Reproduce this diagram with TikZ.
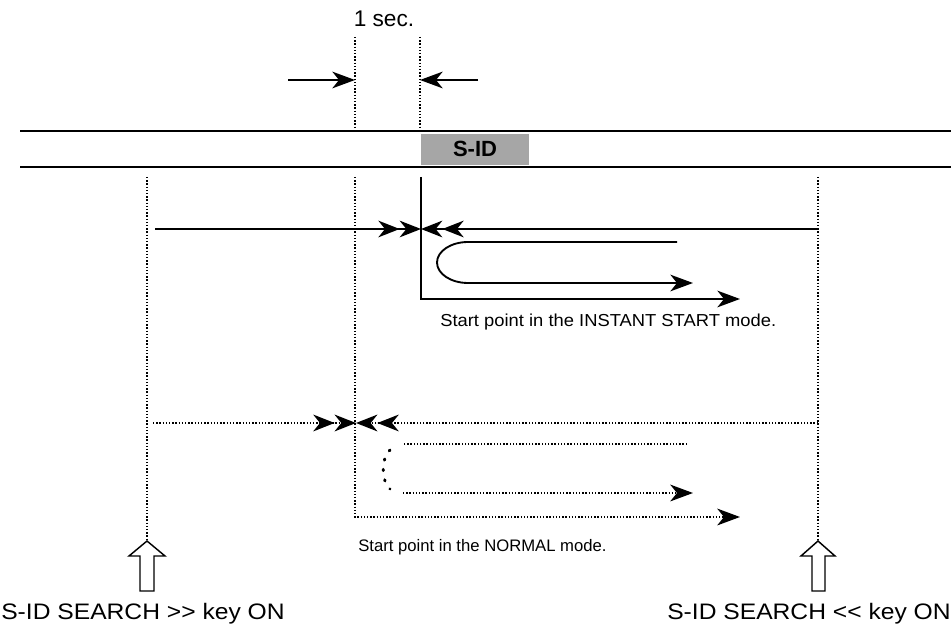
\documentclass[tikz,border=0pt]{standalone}
\usepackage{fontspec}
\setmainfont{Liberation Sans}
\newfontfamily\widefont{Liberation Sans}[FakeStretch=1.1]
\newfontfamily\midfont{Liberation Sans}[FakeStretch=1.06]
\usetikzlibrary{arrows.meta}
\tikzset{
  solidln/.style={line width=1.4pt},
  dotln/.style={line width=2.1pt, dash pattern=on 1.1pt off 1.3pt},
  sparse/.style={line width=2.2pt, dash pattern=on 0.9pt off 7pt, line cap=round},
  arr/.style={-{Stealth[length=17pt,width=12.5pt,inset=5pt]}},
  darr/.style={-{Stealth[length=16pt,width=12.5pt,inset=5pt]Stealth[length=16pt,width=12.5pt,inset=5pt]}},
  hollow/.style={line width=1.1pt, fill=white, line join=miter},
  lbl/.style={inner sep=0pt, font=\widefont\fontsize{16.8}{20}\selectfont},
  small/.style={inner sep=0pt, font=\fontsize{12.5}{16}\selectfont}
}
\begin{document}
\begin{tikzpicture}[x=0.75pt,y=-0.75pt]
\useasboundingbox (0,0) rectangle (951,641);

% tape
\coordinate (t1l) at (20,131); \coordinate (t1r) at (951,131);
\coordinate (t2l) at (20,167); \coordinate (t2r) at (951,167);
\draw[line width=1.8pt] (t1l) -- (t1r);
\draw[line width=1.8pt] (t2l) -- (t2r);
\node[fill=black!35, minimum width=81pt, minimum height=23pt, inner sep=0pt, anchor=north west] (sidbox) at (421,134) {};
\node[inner sep=0pt, font=\fontsize{16.5}{20}\selectfont\bfseries] (sid) at (475,149) {S-ID};

% 1 sec.
\node[inner sep=0pt, font=\fontsize{17}{20}\selectfont] (onesec) at (384,19) {1 sec.};
\coordinate (va1) at (355,37); \coordinate (va2) at (355,127);
\coordinate (vb1) at (420,37); \coordinate (vb2) at (420,127);
\draw[dotln] (va1) -- (va2);
\draw[dotln] (vb1) -- (vb2);
\coordinate (ra) at (288,80); \coordinate (rat) at (355,80);
\coordinate (la) at (478,80); \coordinate (lat) at (420,80);
\draw[solidln, arr] (ra) -- (rat);
\draw[solidln, arr] (la) -- (lat);

% left & right key lines
\coordinate (lk1) at (147,177); \coordinate (lk2) at (147,542);
\coordinate (rk1) at (818,177); \coordinate (rk2) at (818,542);
\draw[dotln] (lk1) -- (lk2);
\draw[dotln] (rk1) -- (rk2);
\draw[hollow] (140,591) -- (140,556) -- (129,556) -- (147,541) -- (165,556) -- (154,556) -- (154,591) -- cycle;
\draw[hollow] (812,591) -- (812,556) -- (801,556) -- (818,541) -- (835,556) -- (825,556) -- (825,591) -- cycle;

% INSTANT START
\coordinate (is1) at (421,177); \coordinate (isc) at (421,299); \coordinate (is2) at (740,299);
\draw[solidln, arr] (is1) -- (isc) -- (is2);
\coordinate (ia) at (155,229); \coordinate (iat) at (421,229);
\coordinate (ib) at (818,229); \coordinate (ibt) at (421,229);
\draw[solidln, darr] (ia) -- (iat);
\draw[solidln, darr] (ib) -- (ibt);
\coordinate (u1) at (677,242); \coordinate (u2) at (468,242);
\coordinate (u4) at (693,283);
\draw[solidln, arr] (u1) -- (u2) arc[start angle=270, end angle=90, x radius=31, y radius=20.5] -- (u4);
\node[inner sep=0pt, font=\midfont\fontsize{13}{16}\selectfont, anchor=west] (istxt) at (440,322) {Start point in the INSTANT START mode.};

% NORMAL
\coordinate (n1) at (355,177); \coordinate (nc) at (355,517); \coordinate (n2) at (740,517);
\draw[dotln, arr] (n1) -- (nc) -- (n2);
\coordinate (na) at (153,423); \coordinate (nat) at (356,423);
\coordinate (nb) at (818,423); \coordinate (nbt) at (356,423);
\draw[dotln, darr] (na) -- (nat);
\draw[dotln, darr] (nb) -- (nbt);
\coordinate (d1) at (687,444); \coordinate (d2) at (403,444);
\coordinate (d3) at (403,493); \coordinate (d4) at (693,493);
\draw[dotln] (d1) -- (d2);
\draw[dotln, arr] (d3) -- (d4);
\draw[sparse] (390,450) .. controls (381,458) and (381,481) .. (390,489);
\node[small, anchor=west] (nmtxt) at (358,547) {Start point in the NORMAL mode.};

% key labels
\node[lbl] (lkey) at (143,614) {S-ID SEARCH >\kern0pt> key ON};
\node[lbl] (rkey) at (809,614) {S-ID SEARCH <\kern0pt< key ON};
\end{tikzpicture}
\end{document}
